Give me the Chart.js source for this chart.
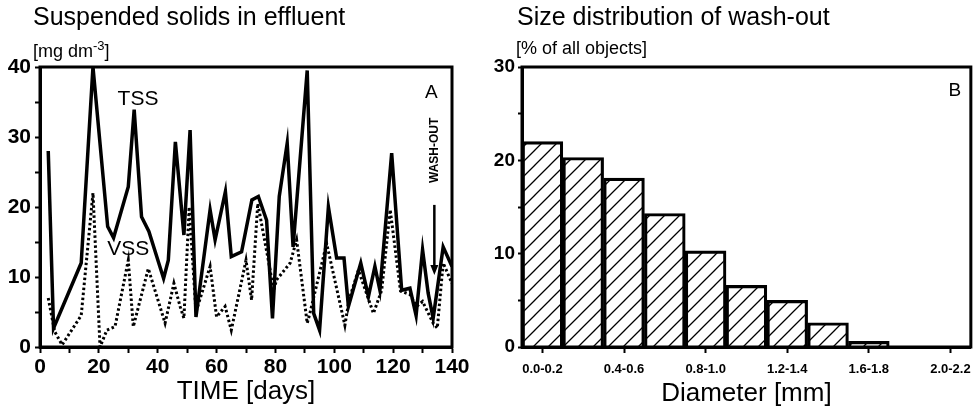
<!DOCTYPE html>
<html>
<head>
<meta charset="utf-8">
<script src="https://cdn.jsdelivr.net/npm/chart.js@4.4.1/dist/chart.umd.min.js"></script>
<style>
  body { margin: 0; background: #fff; width: 980px; height: 411px; overflow: hidden; font-family: "Liberation Sans", Arial, sans-serif; color: #000; }
  .panel { position: absolute; top: 0; width: 490px; height: 411px; }
  .title { position: absolute; top: 2px; font-size: 25px; white-space: nowrap; }
  .unit { position: absolute; top: 38px; font-size: 18px; white-space: nowrap; }
  .unit sup { font-size: 13px; }
</style>
</head>
<body>
<div class="panel" style="left:0">
  <div class="title" style="left:33px">Suspended solids in effluent</div>
  <div class="unit" style="left:33px">[mg dm<sup>-3</sup>]</div>
  <canvas id="solidsChart" width="490" height="411"></canvas>
</div>
<div class="panel" style="left:490px">
  <div class="title" style="left:27px">Size distribution of wash-out</div>
  <div class="unit" style="left:26px">[% of all objects]</div>
  <canvas id="sizeChart" width="490" height="411"></canvas>
</div>
<script>
// A: suspended solids in effluent
const tssDays = [2.8, 4.6, 14, 18, 23, 25, 30, 32, 34.5, 37, 42, 43.6, 46, 48.9, 51, 53, 57.8, 59.5, 63, 65, 68.5, 72, 74.2, 77, 79, 81.3, 84, 86, 90.8, 93, 95, 98, 100.8, 103.3, 104.8, 109, 111.6, 113.8, 115.5, 119.5, 122.9, 125.7, 127.8, 130, 131.9, 133.6, 137, 140];
const tssValues = [28, 2.7, 12, 40, 17.2, 15.6, 22.9, 33.9, 18.6, 16.5, 9.8, 12.4, 29.3, 16, 31, 4.3, 19.6, 15.3, 22.2, 12.9, 13.6, 21, 21.5, 18.1, 4.1, 21.5, 29.1, 14.3, 39.5, 4.8, 2.4, 20, 12.7, 12.7, 5.8, 12, 7.2, 11.5, 8.1, 27.7, 8.1, 8.4, 4.5, 13.9, 7.7, 4.1, 14.3, 11.5];
const vssDays = [2.8, 5, 7.5, 14, 18, 20.4, 22.7, 25.5, 30, 31.7, 36.8, 42.5, 45.5, 47.6, 48.9, 50.7, 53, 57.8, 60, 62.9, 65, 70, 71.9, 74, 78.2, 79.3, 80.4, 85, 87.2, 90.8, 91.7, 97.4, 103.6, 105, 108.2, 113.3, 116.1, 119, 122.5, 125.7, 128, 130, 133.6, 135, 137, 140];
const vssValues = [7, 2.2, 0.3, 4.5, 22, 0, 2.4, 2.9, 12.4, 2.9, 11.2, 3.4, 9.1, 5.8, 4.1, 20, 5, 11.5, 4.3, 5.8, 2.4, 12.4, 6.7, 20.5, 11, 8, 9.6, 12, 15.3, 3.4, 4.8, 14.8, 3.1, 6.7, 11, 4.8, 8.1, 19.6, 8, 7.5, 5.8, 6.5, 3.4, 2.7, 12, 9.1];

// B: size distribution of wash-out
const sizeClasses = ['0.0-0.2', '0.2-0.4', '0.4-0.6', '0.6-0.8', '0.8-1.0', '1.0-1.2', '1.2-1.4', '1.4-1.6', '1.6-1.8', '1.8-2.0', '2.0-2.2'];
const sizeShares = [22, 20.3, 18.1, 14.3, 10.3, 6.6, 5.0, 2.6, 0.6, 0, 0];

const FONT = '"Liberation Sans", Arial, sans-serif';
Chart.defaults.font.family = FONT;
Chart.defaults.color = '#000';

const toPoints = (xs, ys) => xs.map((x, i) => ({ x: x, y: ys[i] }));

// рамка вокруг области графика
const frame = {
    id: 'frame',
    afterDatasetsDraw(chart) {
        const { ctx, chartArea: a } = chart;
        ctx.save();
        ctx.strokeStyle = '#000';
        ctx.lineWidth = 3;
        ctx.strokeRect(a.left, a.top, a.right - a.left, a.bottom - a.top);
        ctx.restore();
    }
};

const solidsLabels = {
    id: 'solidsLabels',
    afterDraw(chart) {
        const { ctx } = chart;
        const x = chart.scales.x, y = chart.scales.y;
        ctx.save();
        ctx.fillStyle = '#000';
        ctx.textAlign = 'center';
        ctx.textBaseline = 'middle';
        ctx.font = '21px ' + FONT;
        ctx.fillText('TSS', x.getPixelForValue(33.3), y.getPixelForValue(35.4));
        ctx.fillText('VSS', x.getPixelForValue(30), y.getPixelForValue(13.9));
        ctx.font = '19px ' + FONT;
        ctx.fillText('A', x.getPixelForValue(133), y.getPixelForValue(36.3));

        // стрелка wash-out
        const ax = x.getPixelForValue(134);
        ctx.save();
        ctx.translate(ax, y.getPixelForValue(28.1));
        ctx.rotate(-Math.PI / 2);
        ctx.font = 'bold 12px ' + FONT;
        ctx.fillText('WASH-OUT', 0, 0);
        ctx.restore();
        const y1 = y.getPixelForValue(20.3), y2 = y.getPixelForValue(10.3);
        ctx.strokeStyle = '#000';
        ctx.lineWidth = 2.5;
        ctx.beginPath();
        ctx.moveTo(ax, y1);
        ctx.lineTo(ax, y2 - 8);
        ctx.stroke();
        ctx.beginPath();
        ctx.moveTo(ax - 4, y2 - 10);
        ctx.lineTo(ax + 4, y2 - 10);
        ctx.lineTo(ax, y2);
        ctx.closePath();
        ctx.fill();
        ctx.restore();
    }
};

new Chart(document.getElementById('solidsChart'), {
    type: 'line',
    data: {
        datasets: [
            {
                label: 'TSS',
                data: toPoints(tssDays, tssValues),
                borderColor: '#000',
                borderWidth: 3.5,
                pointRadius: 0,
                tension: 0
            },
            {
                label: 'VSS',
                data: toPoints(vssDays, vssValues),
                borderColor: '#000',
                borderWidth: 3,
                borderDash: [2.5, 2.5],
                pointRadius: 0,
                tension: 0
            }
        ]
    },
    options: {
        responsive: false,
        animation: false,
        layout: { padding: { top: 67, right: 38, left: 0, bottom: 0 } },
        plugins: { legend: { display: false }, tooltip: { enabled: false } },
        scales: {
            x: {
                type: 'linear',
                min: 0,
                max: 140,
                afterFit: s => { s.height = 64; },
                border: { color: '#000', width: 3 },
                grid: { drawOnChartArea: false, color: '#000', tickLength: 6, tickWidth: 2 },
                ticks: {
                    stepSize: 10,
                    autoSkip: false,
                    maxRotation: 0,
                    padding: 2,
                    font: { size: 21, weight: 'bold' },
                    callback: v => (v % 20 === 0 ? v : '')
                },
                title: { display: true, text: 'TIME [days]', font: { size: 26 }, padding: { top: 0, bottom: 4 } }
            },
            y: {
                min: 0,
                max: 40,
                afterFit: s => { s.width = 40; },
                border: { color: '#000', width: 3 },
                grid: { drawOnChartArea: false, color: '#000', tickLength: 5, tickWidth: 2 },
                ticks: {
                    stepSize: 5,
                    padding: 4,
                    font: { size: 21, weight: 'bold' },
                    callback: v => (v % 10 === 0 ? v : '')
                }
            }
        }
    },
    plugins: [frame, solidsLabels]
});

// штриховка для столбцов
function hatchPattern() {
    const size = 15;
    const c = document.createElement('canvas');
    c.width = size;
    c.height = size;
    const g = c.getContext('2d');
    g.strokeStyle = '#000';
    g.lineWidth = 1.3;
    g.beginPath();
    g.moveTo(0, size);
    g.lineTo(size, 0);
    g.moveTo(-size / 2, size / 2);
    g.lineTo(size / 2, -size / 2);
    g.moveTo(size / 2, size * 1.5);
    g.lineTo(size * 1.5, size / 2);
    g.stroke();
    return g.createPattern(c, 'repeat');
}

const sizeLabels = {
    id: 'sizeLabels',
    afterDraw(chart) {
        const { ctx, chartArea: a } = chart;
        ctx.save();
        ctx.fillStyle = '#000';
        ctx.font = '19px ' + FONT;
        ctx.textAlign = 'center';
        ctx.textBaseline = 'middle';
        ctx.fillText('B', a.right - 16, a.top + 24);
        ctx.restore();
    }
};

const sizeCanvas = document.getElementById('sizeChart');
new Chart(sizeCanvas, {
    type: 'bar',
    data: {
        labels: sizeClasses,
        datasets: [{
            data: sizeShares,
            backgroundColor: hatchPattern(),
            borderColor: '#000',
            borderWidth: 2.5,
            borderSkipped: 'bottom',
            barPercentage: 1,
            categoryPercentage: 1
        }]
    },
    options: {
        responsive: false,
        animation: false,
        layout: { padding: { top: 67, right: 7, left: 0, bottom: 0 } },
        plugins: { legend: { display: false }, tooltip: { enabled: false } },
        scales: {
            x: {
                afterFit: s => { s.height = 64; },
                border: { color: '#000', width: 3 },
                grid: {
                    offset: false,
                    drawOnChartArea: false,
                    tickLength: 6,
                    tickWidth: 2,
                    color: c => (c.index % 2 === 0 ? '#000' : 'rgba(0,0,0,0)')
                },
                ticks: {
                    autoSkip: false,
                    maxRotation: 0,
                    padding: 9,
                    font: { size: 13, weight: 'bold' },
                    callback: function(v, i) { return i % 2 === 0 ? this.getLabelForValue(v) : ''; }
                },
                title: { display: true, text: 'Diameter [mm]', font: { size: 26 }, padding: { top: 0, bottom: 2 } }
            },
            y: {
                min: 0,
                max: 30,
                afterFit: s => { s.width = 32; },
                border: { color: '#000', width: 3 },
                grid: {
                    drawOnChartArea: false,
                    color: '#000',
                    tickLength: 4,
                    tickWidth: c => (c.tick && c.tick.value % 5 === 0 ? 2 : 1)
                },
                ticks: {
                    stepSize: 2.5,
                    padding: 3,
                    font: { size: 19, weight: 'bold' },
                    callback: v => (v % 10 === 0 ? v : '')
                }
            }
        }
    },
    plugins: [frame, sizeLabels]
});
</script>
</body>
</html>
